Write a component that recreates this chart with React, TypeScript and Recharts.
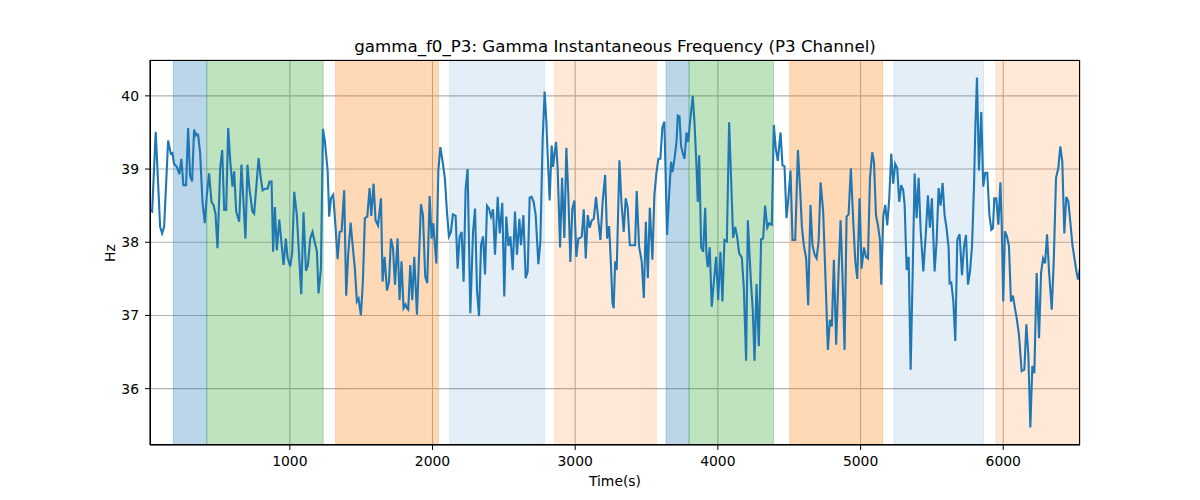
import React from 'react';
import { LineChart, Line, XAxis, YAxis, CartesianGrid, ReferenceArea } from 'recharts';

const times = [
  20, 35, 60, 91, 105, 119, 147, 166, 177, 189, 208, 226, 240, 254, 273, 287, 301, 315, 329, 341,
  348, 357, 371, 388, 404, 418, 434, 451, 465, 479, 493, 512, 526, 540, 554, 568, 582, 598, 610, 624,
  645, 661, 675, 689, 703, 717, 738, 750, 781, 797, 809, 825, 844, 858, 872,
  883, 895, 909, 926, 942, 956, 972, 984, 1003, 1017, 1031, 1049, 1066, 1080, 1096, 1113, 1127, 1143, 1159, 1171,
  1190, 1201, 1218, 1232, 1246, 1265, 1276, 1288, 1304, 1321, 1335, 1349, 1363, 1381, 1395, 1409, 1426, 1442, 1456, 1470,
  1482, 1498, 1512, 1526, 1543, 1559, 1571, 1587, 1601, 1618, 1639, 1650, 1664, 1681, 1695, 1709,
  1723, 1737, 1755, 1769, 1783, 1797, 1811, 1821, 1830, 1844, 1858, 1872, 1891, 1905, 1919, 1933, 1949, 1963, 1980, 1994,
  2006, 2013, 2027, 2041, 2055, 2071, 2087, 2101, 2115, 2129, 2143, 2162, 2176, 2190, 2204, 2218, 2232, 2246, 2265, 2284,
  2298, 2312, 2326, 2340, 2354, 2368, 2382, 2396, 2410, 2424, 2438, 2457, 2471, 2489, 2503, 2517, 2532, 2546, 2562,
  2578, 2592, 2609, 2620, 2637, 2653, 2667, 2681, 2695, 2709, 2723, 2742, 2756, 2772, 2786, 2798, 2807, 2821, 2835, 2845,
  2854, 2866, 2877, 2894, 2908, 2924, 2938, 2952, 2966, 2980, 2994, 3008, 3022, 3036, 3046, 3060, 3074, 3088, 3102, 3116,
  3130, 3146, 3163, 3177, 3193, 3210, 3224, 3238, 3252, 3261, 3270, 3280, 3291, 3310, 3324, 3340, 3354, 3368, 3383, 3404,
  3420, 3431, 3448, 3466, 3481, 3495, 3509, 3523, 3541, 3555, 3569, 3583, 3597, 3611, 3625, 3635, 3644, 3658, 3672, 3682,
  3696, 3710, 3719, 3731, 3742, 3752, 3766, 3780, 3792, 3806, 3824, 3836, 3850, 3859, 3869, 3883, 3897, 3911, 3920, 3929,
  3943, 3957, 3972, 3988, 4002, 4018, 4032, 4046, 4063, 4079, 4095, 4107, 4121, 4135, 4149, 4168, 4182, 4198, 4210, 4229,
  4233, 4245, 4257, 4271, 4287, 4303, 4317, 4331, 4346, 4360, 4378, 4392, 4406, 4420, 4439, 4453, 4467, 4481, 4495, 4509,
  4523, 4542, 4561, 4575, 4589, 4603, 4619, 4633, 4649, 4663, 4678, 4692, 4706, 4720, 4738, 4752, 4771, 4785, 4799, 4813,
  4829, 4846, 4860, 4874, 4888, 4902, 4916, 4932, 4949, 4963, 4977, 4993, 5007, 5024, 5038, 5052, 5066, 5082,
  5094, 5108, 5122, 5136, 5145, 5159, 5173, 5187, 5201, 5215, 5229, 5243, 5257, 5271, 5285, 5299, 5309, 5323, 5337, 5351,
  5365, 5379, 5393, 5407, 5421, 5440, 5458, 5472, 5486, 5500, 5519, 5533, 5547, 5561, 5575, 5589, 5603, 5617, 5624, 5636,
  5650, 5664, 5678, 5694, 5711, 5725, 5739, 5753, 5767, 5781, 5795, 5804, 5816, 5830, 5846, 5860, 5874, 5888, 5903, 5917,
  5928,
  5937, 5951, 5966, 5980, 5989, 6000, 6012, 6026, 6040, 6054, 6068, 6082, 6096, 6110, 6129, 6148, 6162, 6176, 6190, 6204,
  6218, 6234, 6251, 6265, 6279, 6293, 6307, 6321, 6340, 6354, 6370, 6386, 6400, 6414, 6428, 6442, 6456, 6470, 6485, 6499,
  6513, 6524, 6538,
];

const gammaHz = [
  38.44, 38.42, 39.51, 38.21, 38.12, 38.21, 39.39, 39.21, 39.22, 39.07, 39.03, 38.93, 39.14, 38.78, 38.78, 39.56, 38.91, 38.83, 39.54, 39.46,
  39.48, 39.47, 39.23, 38.55, 38.26, 38.64, 38.94, 38.55, 38.51, 38.39, 37.92, 39.01, 39.26, 38.44, 38.44, 39.56, 39.12, 38.76, 38.97, 38.42,
  38.28, 39.06, 38.55, 38.05, 39.06, 38.73, 38.42, 38.39, 39.15, 38.87, 38.71, 38.73, 38.73, 38.83, 38.83,
  37.87, 38.48, 37.89, 38.31, 37.98, 37.69, 38.05, 37.79, 37.67, 37.87, 38.69, 38.37, 37.78, 37.29, 38.41, 37.61, 37.69, 38.05, 38.14, 38.03,
  37.87, 37.3, 37.64, 39.55, 39.37, 38.98, 38.35, 38.6, 38.65, 38.19, 37.77, 38.14, 38.15, 38.71, 37.27, 37.83, 38.27, 37.92, 37.64, 37.19,
  37.23, 37.0, 37.46, 38.33, 38.35, 38.74, 38.36, 38.8, 38.3, 38.23, 38.6, 37.46, 37.8, 37.34, 37.46, 38.05,
  37.92, 37.42, 38.05, 37.21, 37.74, 37.1, 37.15, 37.1, 37.08, 37.69, 37.21, 37.8, 37.01, 37.78, 38.52, 38.37, 37.53, 37.44, 38.63, 38.05,
  38.26, 38.05, 37.71, 38.98, 39.3, 39.1, 38.87, 38.42, 38.08, 38.14, 38.38, 38.36, 37.64, 38.08, 38.14, 37.46, 38.73, 39.0, 37.03, 38.14,
  38.46, 37.33, 36.99, 37.96, 38.08, 37.56, 38.5, 38.46, 38.35, 38.45, 37.83, 38.62, 38.12, 38.54, 37.26, 38.35, 37.95, 38.08, 37.62,
  38.42, 37.83, 38.32, 37.96, 38.37, 37.51, 37.6, 38.61, 38.62, 38.55, 38.37, 37.7, 38.01, 39.41, 40.06, 39.64, 39.19, 38.57, 39.32, 39.03,
  39.19, 39.37, 39.01, 37.93, 38.88, 38.06, 39.29, 38.64, 37.73, 38.46, 38.57, 37.8, 38.05, 38.06, 38.08, 38.45, 37.78, 38.37, 38.2, 38.3,
  38.32, 38.62, 38.28, 38.03, 38.57, 38.92, 38.05, 38.22, 37.64, 37.17, 37.1, 37.74, 37.62, 39.12, 38.55, 38.14, 38.6, 38.47, 37.96, 37.96,
  37.96, 38.7, 37.94, 37.74, 37.24, 38.28, 37.51, 38.47, 37.76, 38.64, 38.94, 39.14, 39.14, 39.57, 39.65, 38.82, 38.1, 38.64, 39.1, 38.96,
  39.14, 39.37, 39.73, 39.72, 39.32, 39.23, 39.14, 39.5, 39.37, 39.66, 40.0, 39.64, 39.05, 38.55, 39.19, 37.93, 37.87, 38.47, 37.83, 37.66,
  37.93, 37.12, 37.46, 37.8, 37.21, 37.87, 37.19, 38.03, 38.01, 39.64, 38.73, 38.06, 38.21, 38.08, 37.85, 37.79, 37.37, 36.38, 38.3, 37.56,
  37.42, 37.06, 36.38, 37.43, 36.58, 38.04, 38.05, 38.5, 38.2, 38.26, 38.24, 39.6, 39.28, 39.11, 39.5, 39.05, 39.04, 38.33, 38.62, 38.98,
  38.03, 38.03, 39.26, 38.78, 38.21, 37.95, 37.78, 37.14, 38.51, 37.96, 37.83, 37.78, 38.01, 38.82, 38.42, 37.64, 36.53, 36.94, 36.85, 37.76,
  36.6, 37.6, 38.3, 37.51, 36.53, 38.35, 38.38, 39.01, 38.28, 37.74, 37.5, 38.6, 37.64, 37.93, 37.8, 37.78, 38.88, 39.23,
  39.1, 38.37, 38.23, 38.03, 37.42, 38.35, 38.51, 38.23, 38.6, 39.21, 38.8, 39.07, 39.01, 38.55, 38.78, 38.71, 38.51, 37.62, 37.8, 36.26,
  37.55, 38.94, 38.33, 38.88, 38.17, 37.6, 38.14, 38.64, 38.2, 38.6, 37.6, 38.01, 38.74, 38.5, 38.81, 38.37, 38.19, 37.93, 37.44, 37.45,
  37.2, 36.65, 38.03, 38.11, 37.55, 37.94, 38.1, 37.42, 37.6, 37.94, 38.76, 39.53, 40.25, 38.98, 39.78, 38.76, 38.95, 38.95, 38.37, 38.17,
  38.19,
  38.6, 38.6, 38.24, 38.82, 38.26, 37.19, 38.15, 38.08, 37.95, 37.19, 37.27, 37.1, 36.94, 36.74, 36.24, 36.26, 36.88, 36.46, 35.47, 36.31,
  36.21, 37.58, 36.69, 37.58, 37.78, 37.71, 38.11, 37.6, 37.08, 37.74, 38.88, 39.01, 39.31, 39.1, 38.12, 38.62, 38.56, 38.28, 37.96, 37.78,
  37.6, 37.49, 37.64,
];

const bandStarts = [184, 418, 1321, 2120, 2856, 3637, 3798, 4504, 5234, 5949];
const bandEnds = [418, 1234, 2041, 2784, 3569, 3798, 4390, 5154, 5863, 6538];
const bandColors = ['#1f77b4', '#2ca02c', '#ff7f0e', '#1f77b4', '#ff7f0e', '#1f77b4', '#2ca02c', '#ff7f0e', '#1f77b4', '#ff7f0e'];
const bandAlphas = [0.3, 0.3, 0.3, 0.12, 0.17, 0.3, 0.3, 0.3, 0.12, 0.17];

const xTicks = [1000, 2000, 3000, 4000, 5000, 6000];
const yTicks = [36, 37, 38, 39, 40];

const data = times.map((t, i) => ({ t, hz: gammaHz[i] }));

const FONT = '"DejaVu Sans", sans-serif';

export default function App() {
  return (
    <div style={{ position: 'relative', width: 1200, height: 500, margin: -8, background: '#fff', fontFamily: FONT }}>
      <LineChart width={1200} height={500} data={data} margin={{ top: 60, right: 120, bottom: 0, left: 0 }}>
        {bandStarts.map((s, i) => (
          <ReferenceArea
            key={i}
            x1={s}
            x2={bandEnds[i]}
            fill={bandColors[i]}
            fillOpacity={bandAlphas[i]}
            stroke={bandColors[i]}
            strokeOpacity={bandAlphas[i]}
            ifOverflow="hidden"
          />
        ))}
        <CartesianGrid stroke="#b0b0b0" strokeWidth={1.1} />
        <XAxis
          dataKey="t"
          type="number"
          domain={[20, 6538]}
          ticks={xTicks}
          allowDataOverflow
          height={55}
          tickSize={5}
          tickMargin={6}
          axisLine={{ stroke: '#000' }}
          tickLine={{ stroke: '#000' }}
          tick={{ fill: '#000', fontSize: 13.9, fontFamily: FONT }}
        />
        <YAxis
          type="number"
          domain={[35.23, 40.49]}
          ticks={yTicks}
          allowDataOverflow
          width={150}
          tickSize={5}
          tickMargin={6}
          axisLine={{ stroke: '#000' }}
          tickLine={{ stroke: '#000' }}
          tick={{ fill: '#000', fontSize: 13.9, fontFamily: FONT }}
        />
        <Line
          type="linear"
          dataKey="hz"
          stroke="#1f77b4"
          strokeWidth={2.1}
          dot={false}
          isAnimationActive={false}
        />
      </LineChart>
      <div
        style={{
          position: 'absolute', left: 150, top: 60, width: 930, height: 385,
          border: '1px solid #000', boxSizing: 'border-box', pointerEvents: 'none',
        }}
      />
      <div style={{ position: 'absolute', left: 150, width: 930, top: 37, lineHeight: '20px', fontSize: 16.67, textAlign: 'center' }}>
        gamma_f0_P3: Gamma Instantaneous Frequency (P3 Channel)
      </div>
      <div style={{ position: 'absolute', left: 150, width: 930, top: 471, lineHeight: '20px', fontSize: 13.9, textAlign: 'center' }}>
        Time(s)
      </div>
      <div
        style={{
          position: 'absolute', left: 60, width: 100, top: 243, lineHeight: '20px', fontSize: 13.9,
          textAlign: 'center', transform: 'rotate(-90deg)',
        }}
      >
        Hz
      </div>
    </div>
  );
}
